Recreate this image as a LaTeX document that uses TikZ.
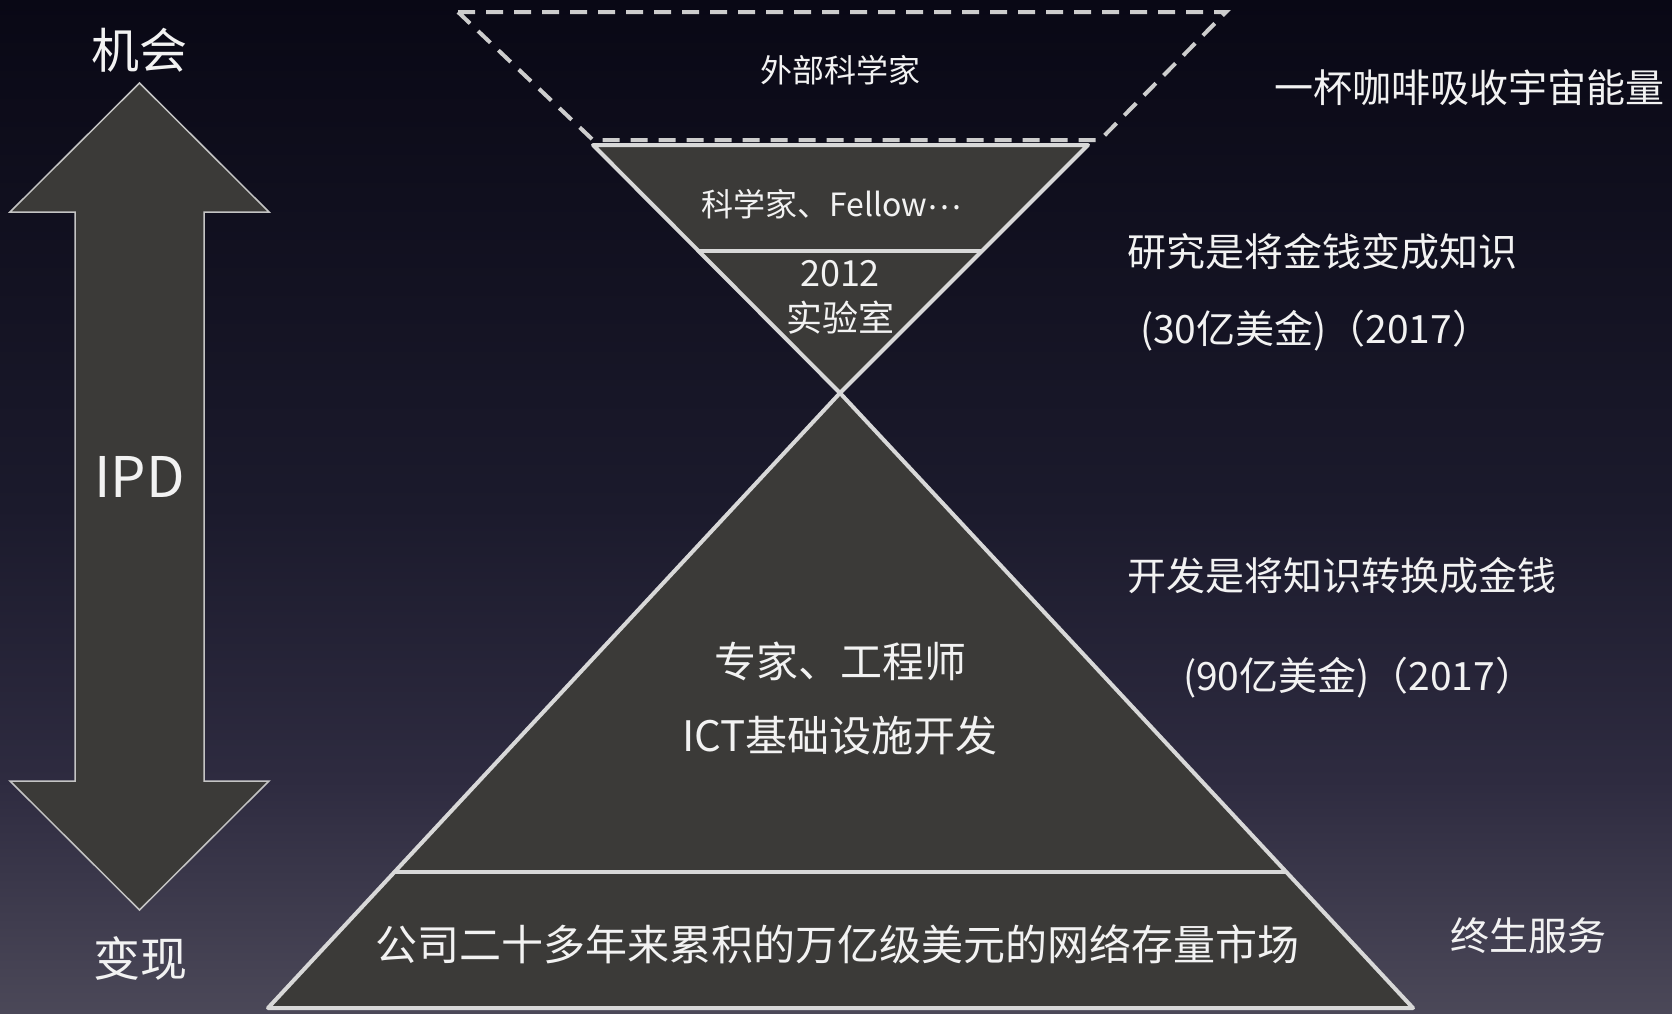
\documentclass[tikz,border=0pt]{standalone}
\usepackage{fontspec}
\setmainfont{Noto Sans CJK SC}
\usetikzlibrary{calc}
\definecolor{bgtop}{HTML}{090815}
\definecolor{bgc1}{HTML}{1B1A2C}
\definecolor{bgc2}{HTML}{2E2B40}
\definecolor{bgbot}{HTML}{4B4858}
\definecolor{shapefill}{HTML}{3B3A38}
\definecolor{edge}{HTML}{D8D8D8}
\definecolor{arrowedge}{HTML}{C4C4C4}
\definecolor{txt}{HTML}{F2F2F2}
\pgfdeclareverticalshading{bgshade}{100bp}{color(0bp)=(bgbot); color(25bp)=(bgbot); color(36.5bp)=(bgc2); color(50bp)=(bgc1); color(75bp)=(bgtop); color(100bp)=(bgtop)}
\begin{document}
\begin{tikzpicture}[x=1pt,y=-1pt,
  solidshape/.style={fill=shapefill, draw=edge, line width=4pt, line join=round},
  dashshape/.style={draw=edge!95!black, line width=4pt, dash pattern=on 17pt off 11pt},
  arrowshape/.style={fill=shapefill, draw=arrowedge, line width=1.5pt},
  lbl/.style={text=txt, inner sep=0pt, outer sep=0pt},
  rlbl/.style={lbl, anchor=west, font=\fontsize{39}{46}\selectfont}
]
\useasboundingbox (0,0) rectangle (1672,1013);
\shade[shading=bgshade] (0,0) rectangle (1672,1013);

% double arrow
\draw[arrowshape] (139.5,83) -- (269,212) -- (204,212) -- (204,781) -- (269,781)
  -- (139.5,910) -- (10,781) -- (75,781) -- (75,212) -- (10,212) -- cycle;
\node[lbl, font=\fontsize{48}{56}\selectfont] (jihui) at (139.5,50) {机会};
\node[lbl, font=\fontsize{47}{55}\selectfont] (bianxian) at (140,958) {变现};
\node[lbl, font=\fontsize{56}{64}\selectfont] (ipd) at (139.5,477) {IPD};

% dashed trapezoid
\draw[dashshape] (458,12) -- (1226,12) -- (1100,140) -- (593,140) -- cycle;

% inverted triangle
\coordinate (itl) at (593,145);
\coordinate (itr) at (1088,145);
\coordinate (iap) at (840,393);
\draw[solidshape] (itl) -- (itr) -- (iap) -- cycle;
\draw[draw=edge, line width=4pt] ($(itl)!0.4274!(iap)$) -- ($(itr)!0.4274!(iap)$);

% big triangle
\coordinate (bbl) at (268,1008);
\coordinate (bbr) at (1413,1008);
\draw[solidshape] (iap) -- (bbr) -- (bbl) -- cycle;
\draw[draw=edge, line width=4pt] ($(iap)!0.7789!(bbl)$) -- ($(iap)!0.7789!(bbr)$);

% texts in shapes
\node[lbl, font=\fontsize{32}{38}\selectfont] (waibu) at (840,70) {外部科学家};
\node[lbl, font=\fontsize{32}{38}\selectfont] (kexuejia) at (831,204) {科学家、Fellow\raisebox{0.2em}{…}};
\node[lbl, align=center, font=\fontsize{36}{45}\selectfont] (lab) at (840,297) {2012\\实验室};
\node[lbl, font=\fontsize{42}{50}\selectfont] (zhuanjia) at (840,661) {专家、工程师};
\node[lbl, font=\fontsize{42}{50}\selectfont] (ict) at (840,736) {ICT基础设施开发};
\node[lbl, font=\fontsize{42}{50}\selectfont] (gongsi) at (837,944) {公司二十多年来累积的万亿级美元的网络存量市场};

% right side texts
\node[rlbl] (coffee) at (1274,88) {一杯咖啡吸收宇宙能量};
\node[rlbl] (yanjiu) at (1127,252) {研究是将金钱变成知识};
\node[rlbl] (yanjiu2) at (1140,331) {(30亿美金)（2017）};
\node[rlbl] (kaifa) at (1127,576) {开发是将知识转换成金钱};
\node[rlbl] (kaifa2) at (1183,678) {(90亿美金)（2017）};
\node[rlbl] (zhongsheng) at (1450,936) {终生服务};
\end{tikzpicture}
\end{document}
